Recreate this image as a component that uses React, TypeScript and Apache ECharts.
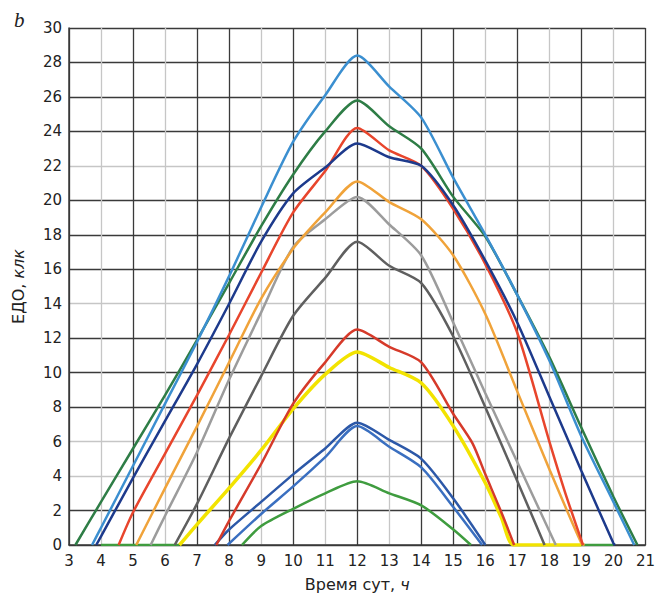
import React, { useEffect, useRef } from 'react';
import * as echarts from 'echarts';

// hour -> illuminance (klx) pairs
const lightBlue = [[3.72,0],[4,1.0],[5,4.6],[6,8.2],[7,11.8],[8,15.6],[9,19.6],[10,23.4],[11,26.1],[12,28.4],[13,26.6],[14,24.8],[15,21.3],[16,18.0],[17,14.5],[18,10.7],[19,6.3],[20,2.5],[20.65,0]];
const darkGreen = [[3.2,0],[4,2.5],[5,5.6],[6,8.7],[7,11.9],[8,15.2],[9,18.5],[10,21.5],[11,24.0],[12,25.8],[13,24.3],[14,23.0],[15,20.2],[16,17.9],[17,14.5],[18,10.9],[19,6.8],[20,2.8],[20.75,0]];
const navy = [[3.85,0],[4,0.5],[5,3.9],[6,7.2],[7,10.5],[8,14.0],[9,17.6],[10,20.4],[11,21.9],[12,23.3],[13,22.5],[14,22.0],[15,19.7],[16,16.5],[17,12.9],[18,8.6],[19,4.3],[20,0.1],[20.05,0]];
const redUpper = [[4.55,0],[5,1.9],[6,5.3],[7,8.7],[8,12.2],[9,15.8],[10,19.3],[11,21.7],[12,24.2],[13,22.9],[14,22.0],[15,19.5],[16,16.3],[17,12.3],[18,6.0],[18.5,3.0],[19.05,0]];
const orange = [[5.1,0],[6,3.3],[7,6.9],[8,10.6],[9,14.3],[10,17.2],[10.5,18.3],[11,19.3],[12,21.1],[13,19.9],[14,18.9],[15,16.8],[16,13.4],[17,8.9],[18,4.4],[19,0.1],[19.1,0]];
const lightGray = [[5.55,0],[6,1.7],[7,5.4],[8,9.6],[9,13.5],[10,17.3],[11,18.9],[12,20.2],[13,18.6],[14,16.8],[15,12.9],[16,8.8],[17,4.8],[18,0.8],[18.2,0]];
const darkGray = [[6.3,0],[7,2.4],[8,6.2],[9,9.8],[10,13.3],[11,15.5],[12,17.6],[13,16.2],[14,15.2],[15,12.1],[16,8.0],[17,3.7],[17.85,0]];
const redLower = [[7.6,0],[8,1.4],[9,4.7],[10,8.2],[11,10.6],[12,12.5],[13,11.5],[14,10.6],[15,7.6],[15.6,5.9],[16,4.1],[16.5,1.9],[16.9,0]];
const yellow = [[6.45,0],[7,1.2],[8,3.3],[9,5.5],[10,7.9],[11,9.9],[12,11.2],[13,10.3],[14,9.4],[15,6.9],[16,3.6],[16.5,1.6],[16.9,0],[19.0,0]];
const blueA = [[7.55,0],[8,0.9],[9,2.5],[10,4.1],[11,5.6],[12,7.1],[13,6.1],[14,5.0],[15,2.7],[16.0,0]];
const blueB = [[7.95,0],[9,1.8],[10,3.4],[11,5.1],[12,6.9],[13,5.7],[14,4.5],[15,2.2],[15.9,0]];
const greenLower = [[4.0,0],[6.45,0],[7,null],[8.4,0],[9,1.1],[10,2.1],[11,3.0],[12,3.7],[13,3.0],[14,2.3],[15,0.9],[15.55,0],[17,null],[19.0,0],[20.0,0]];

const xMin = 3, xMax = 21, yMin = 0, yMax = 30;

const D = '#3a3a3a';
const L = '#c6c6c6';
// hours 3..21
const xGridColors = [D, L, D, L, D, D, L, D, L, D, L, D, D, L, D, L, D, L, D];
// values 0..30 step 2
const yGridColors = [D, D, L, L, D, D, D, L, D, D, D, L, D, D, D, D];

const seriesDefs: [string, number[][], string, number][] = [
  ['greenLower', greenLower, '#3f9c3f', 2.5],
  ['blueB', blueB, '#3a6fc0', 2.5],
  ['blueA', blueA, '#2c58a8', 2.5],
  ['yellow', yellow, '#f2e300', 3.5],
  ['redLower', redLower, '#d63a2a', 2.5],
  ['darkGray', darkGray, '#5f5f5f', 2.5],
  ['lightGray', lightGray, '#9c9c9c', 2.5],
  ['orange', orange, '#f0a33a', 2.5],
  ['redUpper', redUpper, '#e8452c', 2.5],
  ['navy', navy, '#1d3a8c', 2.5],
  ['darkGreen', darkGreen, '#2e7d46', 2.5],
  ['lightBlue', lightBlue, '#3b8fd0', 2.5],
];

export default function App() {
  const ref = useRef<HTMLDivElement>(null);
  useEffect(() => {
    if (!ref.current) return;
    const chart = echarts.init(ref.current, undefined, { renderer: 'svg' });
    const font = '"DejaVu Sans", sans-serif';
    chart.setOption({
      animation: false,
      backgroundColor: '#ffffff',
      grid: { left: 69, right: 8, top: 28, bottom: 52, containLabel: false },
      graphic: [
        {
          type: 'text', left: 14, top: 9,
          style: { text: 'b', font: 'italic 21px "Liberation Serif", serif', fill: '#222' },
        },
      ],
      xAxis: {
        type: 'value', min: xMin, max: xMax, interval: 1,
        name: '{a|Время сут, }{b|ч}',
        nameLocation: 'middle', nameGap: 31,
        nameTextStyle: {
          rich: {
            a: { fontSize: 16, fontFamily: font, color: '#222' },
            b: { fontSize: 16, fontFamily: font, fontStyle: 'italic', color: '#222' },
          },
        },
        axisLine: { show: true, lineStyle: { color: D, width: 1.5 } },
        axisTick: { show: false },
        axisLabel: { fontSize: 15, fontFamily: font, color: '#222', margin: 8 },
        splitLine: { show: true, lineStyle: { color: xGridColors, width: 1.3 } },
      },
      yAxis: {
        type: 'value', min: yMin, max: yMax, interval: 2,
        name: '{a|ЕДО, }{b|клк}',
        nameLocation: 'middle', nameGap: 43,
        nameTextStyle: {
          rich: {
            a: { fontSize: 16, fontFamily: font, color: '#222' },
            b: { fontSize: 16, fontFamily: font, fontStyle: 'italic', color: '#222' },
          },
        },
        axisLine: { show: true, lineStyle: { color: D, width: 1.5 } },
        axisTick: { show: false },
        axisLabel: { fontSize: 15, fontFamily: font, color: '#222', margin: 7 },
        splitLine: { show: true, lineStyle: { color: yGridColors, width: 1.3 } },
      },
      series: seriesDefs.map(([name, data, color, width]) => ({
        name,
        type: 'line',
        data,
        smooth: 0.25,
        showSymbol: false,
        connectNulls: false,
        lineStyle: { color, width },
        itemStyle: { color },
      })),
    });
    return () => chart.dispose();
  }, []);
  return (
    <div
      ref={ref}
      style={{ position: 'fixed', left: 0, top: 0, width: 658, height: 597, background: '#fff' }}
    />
  );
}
